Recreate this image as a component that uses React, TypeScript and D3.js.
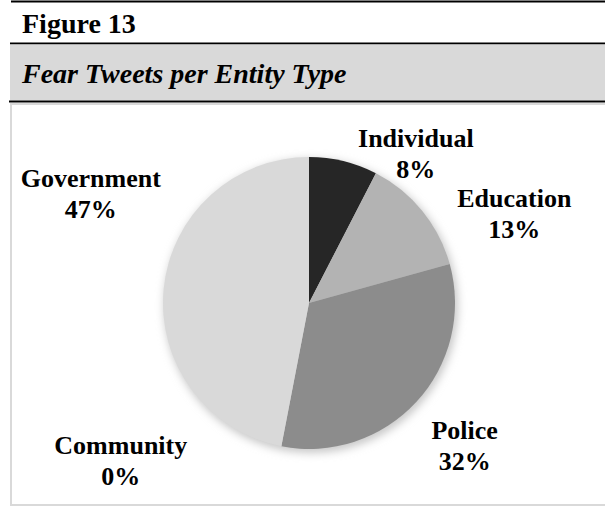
import React from "react";
import * as d3 from "d3";

const categories = ["Individual", "Education", "Police", "Community", "Government"];
const counts = [15, 26, 64, 0, 93];
const sliceColors = ["#262626", "#b3b3b3", "#8c8c8c", "#d9d9d9", "#d9d9d9"];
// label nudges relative to the polar anchor (layout only)
const labelNudges: [number, number][] = [
  [63, 32],
  [61, 28],
  [19, 17],
  [-153, -25],
  [-33, -91],
];

const W = 605;
const H = 508;
const FONT = "'Liberation Serif', 'Times New Roman', serif";

export default function App() {
  const cx = 309;
  const cy = 303;
  const r = 146;
  const total = d3.sum(counts);
  const pie = d3.pie<number>().sort(null).value((d) => d);
  const arcs = pie(counts);
  const arc = d3.arc<d3.PieArcDatum<number>>().innerRadius(0).outerRadius(r);
  const labelR = r + 40;

  return (
    <svg
      width={W}
      height={H}
      style={{ position: "absolute", left: 0, top: 0, background: "#fff" }}
      fontFamily={FONT}
    >
      <defs>
        <filter id="soft" x="-20%" y="-20%" width="140%" height="140%">
          <feGaussianBlur stdDeviation="4" />
        </filter>
      </defs>
      {/* header */}
      <line x1={11} x2={W} y1={1.5} y2={1.5} stroke="#000" strokeWidth={2} />
      <text x={22} y={33} fontSize={28} fontWeight="bold" fill="#000">
        Figure 13
      </text>
      <line x1={10} x2={W} y1={43.5} y2={43.5} stroke="#000" strokeWidth={2} />
      <rect x={10} y={44.5} width={W - 10} height={56} fill="#d9d9d9" />
      <text x={22} y={83} fontSize={28} fontWeight="bold" fontStyle="italic" fill="#000">
        Fear Tweets per Entity Type
      </text>
      <line x1={9} x2={W} y1={101.5} y2={101.5} stroke="#000" strokeWidth={2} />
      <rect x={11} y={104} width={W} height={401} fill="#fff" stroke="#d9d9d9" strokeWidth={2} />

      {/* pie */}
      <g transform={`translate(${cx},${cy})`}>
        <circle cx={2} cy={3} r={r + 1} fill="#c8c8c8" filter="url(#soft)" />
        {arcs.map((a, i) => (
          <path key={categories[i]} d={arc(a) || ""} fill={sliceColors[i]} />
        ))}
      </g>

      {/* labels */}
      {arcs.map((a, i) => {
        const mid = (a.startAngle + a.endAngle) / 2;
        const x = cx + labelR * Math.sin(mid) + labelNudges[i][0];
        const yc = cy - labelR * Math.cos(mid) + labelNudges[i][1];
        const b1 = yc - 7;
        const pct = Math.round((counts[i] / total) * 100);
        return (
          <text
            key={categories[i]}
            x={x}
            textAnchor="middle"
            fontSize={26}
            fontWeight="bold"
            fill="#000"
          >
            <tspan x={x} y={b1}>
              {categories[i]}
            </tspan>
            <tspan x={x} y={b1 + 31}>
              {pct}%
            </tspan>
          </text>
        );
      })}
    </svg>
  );
}
